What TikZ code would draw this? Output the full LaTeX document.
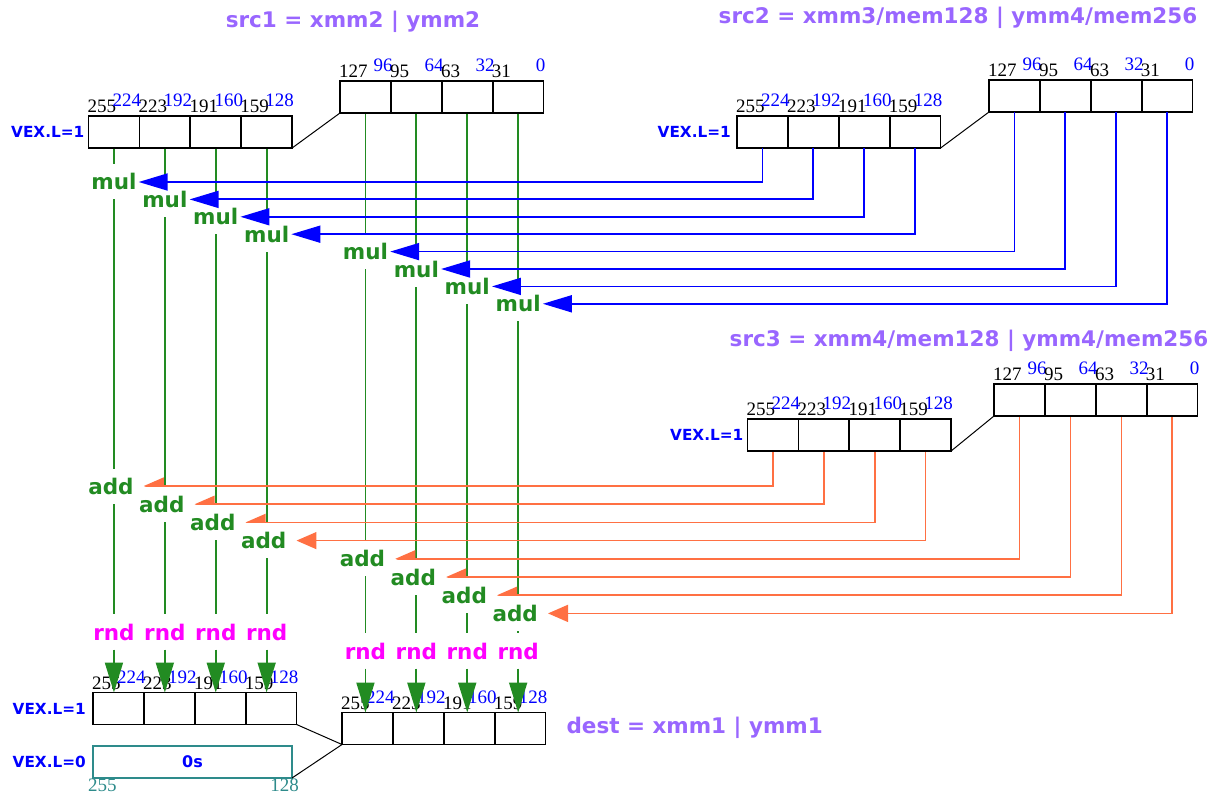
\documentclass[tikz,border=0pt]{standalone}
\usepackage{fontspec}
\setmainfont{Liberation Serif}
\newfontfamily\lblfont{DejaVu Sans}
\usetikzlibrary{positioning,arrows.meta,backgrounds}
\definecolor{OpGreen}{HTML}{228B22}
\definecolor{SrcBlue}{HTML}{0000FF}
\definecolor{AddOrange}{HTML}{FF7043}
\definecolor{RegPurple}{HTML}{9966FF}
\definecolor{RndPink}{HTML}{FF00FF}
\definecolor{ZeroTeal}{HTML}{2E8B8B}

\begin{document}
\begin{tikzpicture}[
  x=1pt, y=-1pt,
  cell/.style={draw, line width=1.7pt, minimum width=50.9pt, minimum height=32pt, inner sep=0pt, outer sep=0pt},
  bitnum/.style={font=\fontsize{19}{19}\selectfont, inner sep=0pt},
  regtitle/.style={font=\lblfont\bfseries\fontsize{21.5}{24}\selectfont, text=RegPurple},
  vex/.style={font=\lblfont\bfseries\fontsize{15.3}{18}\selectfont, text=SrcBlue, inner sep=0pt},
  op/.style={font=\lblfont\bfseries\fontsize{21.5}{24}\selectfont, fill=white, inner xsep=2pt, inner ysep=9.5pt, text height=16pt, text depth=0pt},
  feed/.style={line width=1.8pt, color=OpGreen},
  mularrow/.style={-{Triangle[length=29pt,width=17pt]}, line width=1.8pt, color=SrcBlue},
  addarrow/.style={-{Triangle[length=20pt,width=17pt]}, line width=1.5pt, color=AddOrange, shorten >=8pt},
  rndarrow/.style={-{Triangle[length=30pt,width=18pt]}, line width=1.8pt, color=OpGreen},
  link/.style={line width=1pt}
]
  \useasboundingbox (0,0) rectangle (1217,794);

  % registers, four 32-bit lanes each
  \foreach \reg/\x/\y/\hi in {s1h/88.5/116/255, s1l/340/81/127, s2h/737/116/255, s2l/989/80/127,
                              s3h/747.5/419/255, s3l/994/384/127, dh/93/692.5/255, dl/342/712.5/255}
    \foreach \k in {1,...,4} {
      \pgfmathtruncatemacro\hinum{\hi-32*(\k-1)}
      \pgfmathtruncatemacro\lonum{\hinum-31}
      \node[cell, anchor=north west] (\reg\k) at (\x+50.9*\k-50.9,\y) {};
      \node[bitnum, anchor=south west, xshift=-1pt, yshift=3pt] at (\reg\k.north west) {\hinum};
      \node[bitnum, text=SrcBlue, anchor=south east, xshift=2pt, yshift=9pt] at (\reg\k.north east) {\lonum};
    }
  \node[cell, draw=ZeroTeal, minimum width=199pt, anchor=north west, text=SrcBlue,
        font=\lblfont\bfseries\fontsize{16}{18}\selectfont] (zero) at (93,746) {0s};
  \node[bitnum, text=ZeroTeal, anchor=north west, xshift=-5pt, yshift=-1pt] at (zero.south west) {255};
  \node[bitnum, text=ZeroTeal, anchor=north east, xshift=7pt, yshift=-1pt] at (zero.south east) {128};

  \draw[link] (s1h4.south east) -- (s1l1.south west);
  \draw[link] (s2h4.south east) -- (s2l1.south west);
  \draw[link] (s3h4.south east) -- (s3l1.south west);
  \draw[link] (dh4.south east) -- (dl1.south west);
  \draw[link] (zero.south east) -- (dl1.south west);

  \node[vex, left=4pt of s1h1] (vex1) {VEX.L=1};
  \node[vex, left=6pt of s2h1] (vex2) {VEX.L=1};
  \node[vex, left=4pt of s3h1] (vex3) {VEX.L=1};
  \node[vex, left=7pt of dh1] (vex4) {VEX.L=1};
  \node[vex, left=7pt of zero] (vex5) {VEX.L=0};

  \node[regtitle] (src1) at (353,22) {src1 = xmm2 | ymm2};
  \node[regtitle] (src2) at (958,18) {src2 = xmm3/mem128 | ymm4/mem256};
  \node[regtitle] (src3) at (969,341) {src3 = xmm4/mem128 | ymm4/mem256};
  \node[regtitle, anchor=west] (dest) at (563,728) {dest = xmm1 | ymm1};

  % mul, add and rnd on each lane
  \foreach \i/\col in {1/s1h1,2/s1h2,3/s1h3,4/s1h4,5/s1l1,6/s1l2,7/s1l3,8/s1l4} {
    \pgfmathsetmacro\muly{182+17.4*(\i-1)}
    \pgfmathsetmacro\addy{486+18.2*(\i-1)}
    \pgfmathsetmacro\rndy{\i<5 ? 632 : 651}
    \node[op, text=OpGreen] (mul\i) at (\col.south |- 0,\muly) {mul};
    \node[op, text=OpGreen, xshift=-3pt] (add\i) at (\col.south |- 0,\addy) {add};
    \node[op, text=RndPink] (rnd\i) at (\col.south |- 0,\rndy) {rnd};
  }

  \foreach \i/\s in {1/s2h1,2/s2h2,3/s2h3,4/s2h4,5/s2l1,6/s2l2,7/s2l3,8/s2l4}
    \draw[mularrow] (\s.south) |- (mul\i.east);

  \begin{pgfonlayer}{background}
    \foreach \i/\col in {1/s1h1,2/s1h2,3/s1h3,4/s1h4,5/s1l1,6/s1l2,7/s1l3,8/s1l4}
      \draw[feed] (\col.south) -- (rnd\i.north);
    \foreach \i/\s in {1/s3h1,2/s3h2,3/s3h3,4/s3h4,5/s3l1,6/s3l2,7/s3l3,8/s3l4}
      \draw[addarrow] (\s.south) |- (add\i.east);
  \end{pgfonlayer}

  \foreach \i/\d in {1/dh1,2/dh2,3/dh3,4/dh4,5/dl1,6/dl2,7/dl3,8/dl4}
    \draw[rndarrow] (rnd\i.south) -- (rnd\i.south |- \d.north);
\end{tikzpicture}
\end{document}
